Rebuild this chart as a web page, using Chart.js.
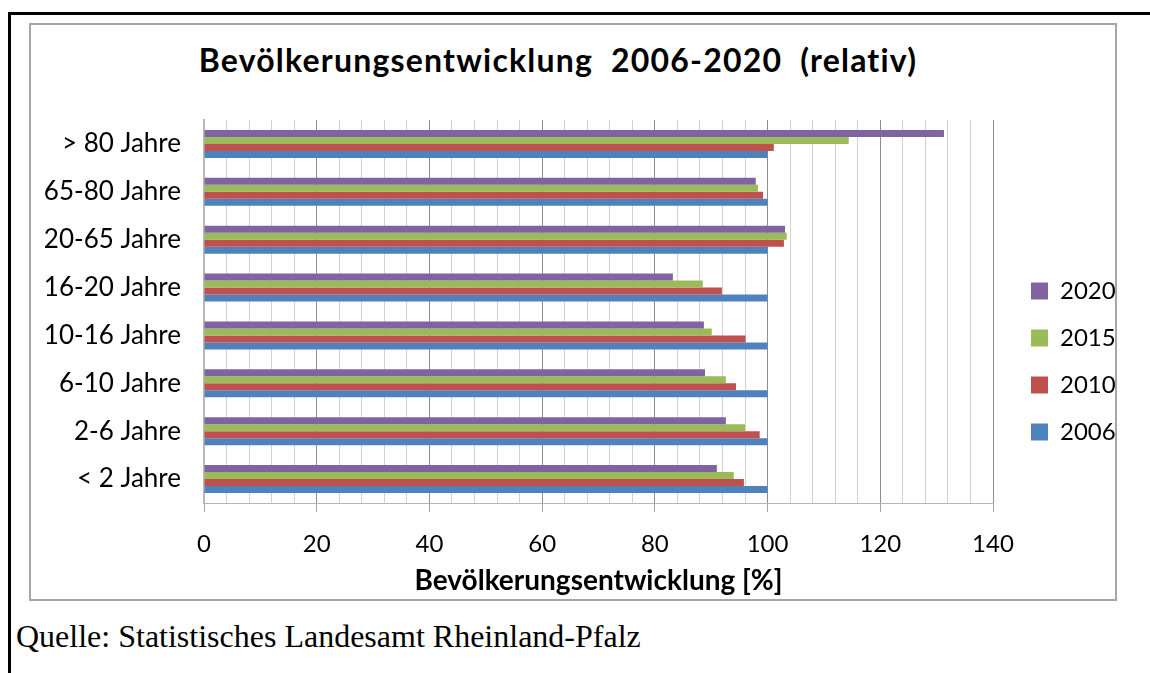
<!DOCTYPE html>
<html>
<head>
<meta charset="utf-8">
<script src="https://cdn.jsdelivr.net/npm/chart.js@4.4.1/dist/chart.umd.min.js"></script>
<style>
html,body{margin:0;padding:0;background:#fff;width:1150px;height:673px;overflow:hidden;position:relative;}
#blackTop{position:absolute;left:8px;top:12px;width:1142px;height:3px;background:#000;}
#blackLeft{position:absolute;left:8px;top:12px;width:3px;height:661px;background:#000;}
#frame{position:absolute;left:29px;top:23px;width:1084px;height:574px;border:2px solid #a6a6a6;}
#wrap{position:absolute;left:31px;top:25px;width:1084px;height:574px;}
#title{position:absolute;left:0;top:40px;width:1116px;text-align:center;font-family:Lato,"Open Sans",sans-serif;font-weight:bold;font-size:32px;line-height:40px;letter-spacing:1.2px;color:#000;white-space:pre;}
#src{position:absolute;left:16px;top:618px;font-family:"Liberation Serif","Times New Roman",serif;font-size:32px;line-height:36px;color:#000;white-space:nowrap;}
</style>
</head>
<body>
<div id="blackTop"></div>
<div id="blackLeft"></div>
<div id="frame"></div>
<div id="title"></div>
<div id="wrap"><canvas id="c" width="1084" height="574"></canvas></div>
<div id="src">Quelle: Statistisches Landesamt Rheinland-Pfalz</div>
<script>
const categories = ['> 80 Jahre','65-80 Jahre','20-65 Jahre','16-20 Jahre','10-16 Jahre','6-10 Jahre','2-6 Jahre','< 2 Jahre'];
const seriesNames = ['2020','2015','2010','2006'];
const values2020 = [131.3, 97.9, 103.1, 83.2, 88.7, 88.9, 92.6, 91.0];
const values2015 = [114.4, 98.3, 103.4, 88.5, 90.1, 92.6, 96.0, 94.0];
const values2010 = [101.1, 99.2, 102.9, 91.9, 96.1, 94.4, 98.6, 95.8];
const values2006 = [100, 100, 100, 100, 100, 100, 100, 100];
const colors = ['#8064A2','#9BBB59','#C0504D','#4F81BD'];
const xMin = 0, xMax = 140, xMinorStep = 4, xMajorStep = 20;
const titleText = 'Bevölkerungsentwicklung  2006-2020  (relativ)';
const xTitleText = 'Bevölkerungsentwicklung [%]';

document.getElementById('title').textContent = titleText;

const FONT = 'Lato, "Open Sans", "DejaVu Sans", sans-serif';
Chart.defaults.font.family = FONT;
Chart.defaults.color = '#000';

const allSeries = [values2020, values2015, values2010, values2006];
const isMajor = v => Math.abs(v % xMajorStep) < 1e-9;

// shift the legend a little further away from the plot, as in the original
const legendShift = {
  id: 'legendShift',
  afterLayout(chart) {
    if (chart.legend) { chart.legend.left += 15; chart.legend.right += 15; }
  }
};

new Chart(document.getElementById('c'), {
  type: 'bar',
  plugins: [legendShift],
  data: {
    labels: categories,
    datasets: seriesNames.map((n, i) => ({
      label: n,
      data: allSeries[i],
      backgroundColor: colors[i],
      borderWidth: 0,
      categoryPercentage: 0.585,
      barPercentage: 1.0
    }))
  },
  options: {
    indexAxis: 'y',
    responsive: false,
    animation: false,
    layout: { padding: { left: 0, right: 0, top: 95, bottom: 0 } },
    plugins: {
      title: { display: false },
      legend: {
        display: true,
        position: 'right',
        title: { display: true, text: ' ', font: { size: 2, lineHeight: 1 }, padding: { top: 2, bottom: 0 } },
        labels: {
          color: '#000',
          font: { family: FONT, size: 24 },
          boxWidth: 17,
          boxHeight: 17,
          padding: 23
        }
      },
      tooltip: { enabled: false }
    },
    scales: {
      x: {
        type: 'linear',
        min: xMin,
        max: xMax,
        ticks: {
          stepSize: xMinorStep,
          autoSkip: false,
          maxRotation: 0,
          color: '#000',
          font: { size: 24 },
          padding: 18,
          callback: v => isMajor(v) ? String(v) : ''
        },
        grid: {
          color: ctx => (ctx.tick && isMajor(ctx.tick.value)) ? '#8f8f8f' : '#d2d2d2',
          tickColor: ctx => (ctx.tick && isMajor(ctx.tick.value)) ? '#a6a6a6' : 'rgba(0,0,0,0)',
          tickLength: 9,
          lineWidth: 1
        },
        border: { display: true, color: '#b5b5b5', width: 1 },
        title: {
          display: true,
          text: xTitleText,
          color: '#000',
          font: { family: FONT, size: 28, weight: 'bold' },
          padding: { top: 0, bottom: 1 }
        },
        afterFit: s => { s.height = 96; s.paddingRight = 122; }
      },
      y: {
        type: 'category',
        ticks: {
          color: '#000',
          font: { size: 26 },
          padding: 23,
          autoSkip: false
        },
        grid: { display: false, drawTicks: false },
        border: { display: true, color: '#b8b8b8', width: 2 },
        afterFit: s => { s.width = 173; }
      }
    }
  }
});
</script>
</body>
</html>
